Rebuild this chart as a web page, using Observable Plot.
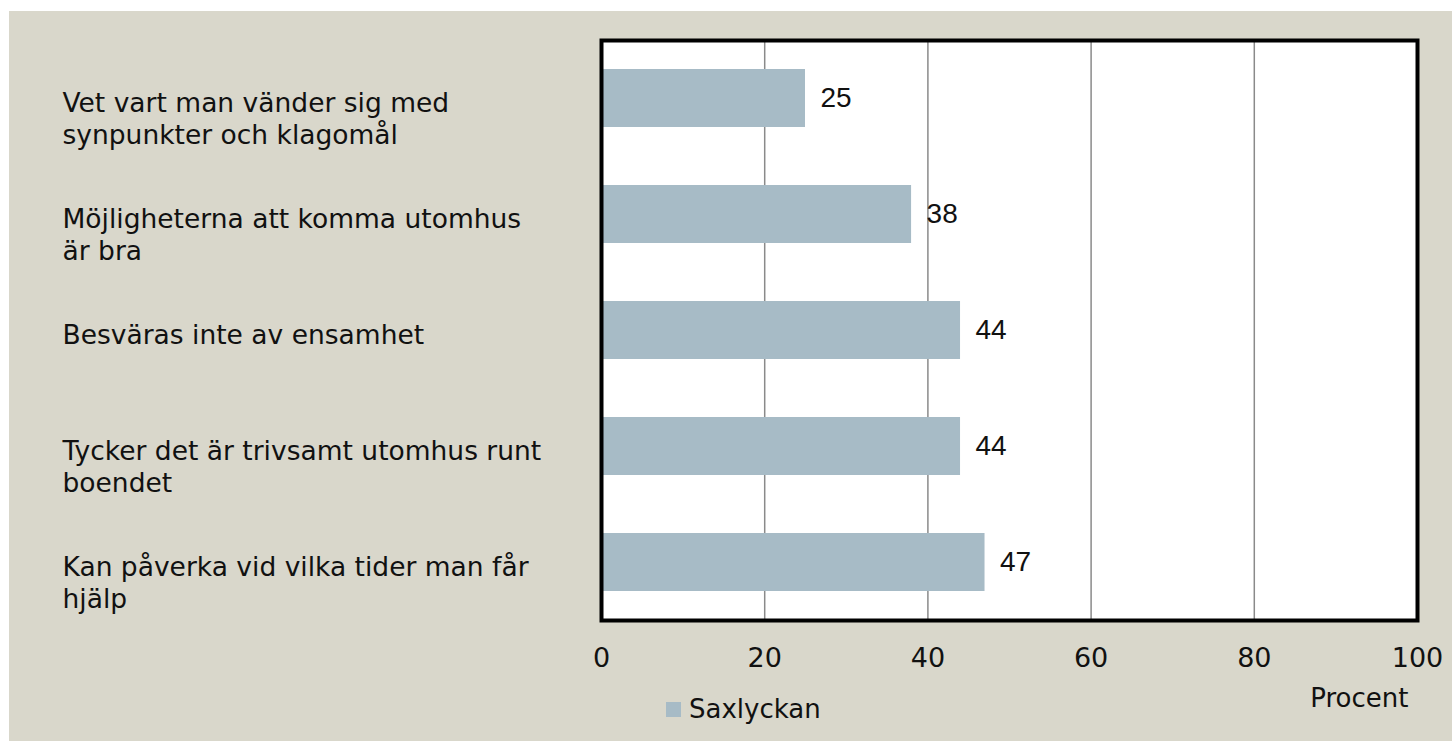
<!DOCTYPE html>
<html>
<head>
<meta charset="utf-8">
<script src="https://cdn.jsdelivr.net/npm/d3@7"></script>
<script src="https://cdn.jsdelivr.net/npm/@observablehq/plot@0.6"></script>
<style>
  html, body { margin: 0; padding: 0; background: #ffffff; }
  #wrap { position: relative; width: 1452px; height: 741px; overflow: hidden; }
  #bg { position: absolute; left: 9px; top: 11px; right: 0; bottom: 0; background: #d9d7cb; }
  #chart { position: absolute; left: 0; top: 0; }
  #legend { position: absolute; left: 666px; top: 694px; font-family: "DejaVu Sans", sans-serif; font-size: 26px; color: #111; display: flex; align-items: center; }
  #legend .sw { width: 15px; height: 15px; background: #a7bbc6; margin-right: 8px; }
</style>
</head>
<body>
<div id="wrap">
  <div id="bg"></div>
  <div id="chart"></div>
  <div id="legend"><span class="sw"></span><span>Saxlyckan</span></div>
</div>
<script>
const categories = ["vet", "mojl", "besv", "tyck", "kan"];
const labels = [
  "Vet vart man vänder sig med\nsynpunkter och klagomål",
  "Möjligheterna att komma utomhus\när bra",
  "Besväras inte av ensamhet",
  "Tycker det är trivsamt utomhus runt\nboendet",
  "Kan påverka vid vilka tider man får\nhjälp"
];
const values = [25, 38, 44, 44, 47];
const xTicks = [0, 20, 40, 60, 80, 100];
const gridTicks = [20, 40, 60, 80];
const seriesName = "Saxlyckan";
const axisTitle = "Procent";

const data = categories.map((c, i) => ({cat: c, label: labels[i], value: values[i]}));

const labelFont = "DejaVu Sans, sans-serif";
const numFont = "Liberation Sans, Arial, sans-serif";

const chart = Plot.plot({
  width: 1452,
  height: 741,
  marginLeft: 601,
  marginRight: 35,
  marginTop: 40,
  marginBottom: 121,
  style: {background: "transparent", fontFamily: labelFont, color: "#111"},
  x: {domain: [0, 100], axis: null},
  y: {domain: categories, paddingInner: 0.5, paddingOuter: 0.25, axis: null},
  marks: [
    Plot.frame({fill: "#ffffff", stroke: null}),
    Plot.ruleX(gridTicks, {stroke: "#8a8a8a", strokeWidth: 1.5}),
    Plot.barX(data, {x: "value", y: "cat", fill: "#a7bbc6"}),
    Plot.frame({stroke: "#000", strokeWidth: 4}),
    Plot.text(data, {x: "value", y: "cat", text: d => String(d.value), textAnchor: "start", dx: 15, fontSize: 28, fontFamily: numFont, fill: "#111"}),
    Plot.text(data, {x: () => 0, y: "cat", text: "label", textAnchor: "start", dx: -539, dy: -9, lineAnchor: "top", lineHeight: 32 / 26.5, fontSize: 26.5, fontFamily: labelFont, fill: "#111"}),
    Plot.axisX({ticks: xTicks, tickSize: 0, tickPadding: 27, fontSize: 27, fontFamily: labelFont, label: null, tickFormat: d => String(d)}),
    Plot.text([axisTitle], {frameAnchor: "bottom-right", textAnchor: "end", lineAnchor: "top", dy: 68, dx: -9, fontSize: 26, fontFamily: labelFont, fill: "#111"})
  ]
});
document.getElementById("chart").appendChild(chart);
</script>
</body>
</html>
